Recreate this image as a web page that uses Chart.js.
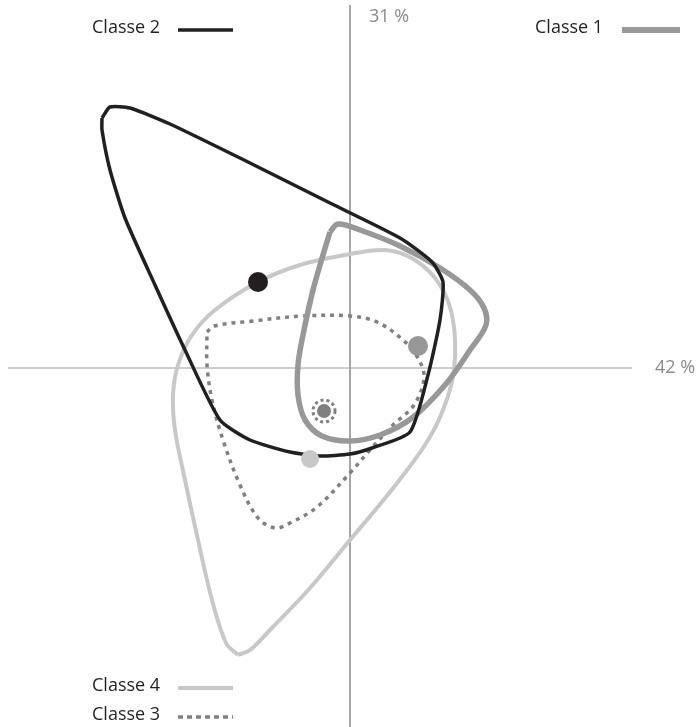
<!DOCTYPE html>
<html>
<head>
<meta charset="utf-8">
<script src="https://cdn.jsdelivr.net/npm/chart.js@4/dist/chart.umd.min.js"></script>
<style>
	html, body { margin: 0; padding: 0; background: #fff; }
	canvas { display: block; }
</style>
</head>
<body>
<canvas id="chart" width="699" height="727"></canvas>
<script>
// axis labels (share of inertia)
var axisLabelX = '42 %';
var axisLabelY = '31 %';
var classNames = ['Classe 1', 'Classe 2', 'Classe 3', 'Classe 4'];

// outline of each class, [axis 1, axis 2]
var classe1 = [[-0.20, 1.36], [-0.12, 1.44], [0.10, 1.38], [0.50, 1.22], [0.90, 1.00], [1.20, 0.78],
	[1.34, 0.60], [1.36, 0.43], [1.20, 0.18], [0.95, -0.17], [0.62, -0.50], [0.30, -0.67],
	[0.00, -0.73], [-0.28, -0.68], [-0.45, -0.52], [-0.52, -0.27], [-0.52, 0.03], [-0.47, 0.33],
	[-0.37, 0.78], [-0.27, 1.13]];
var classe2 = [[-2.48, 2.50], [-2.40, 2.61], [-2.20, 2.60], [-1.80, 2.44], [-1.00, 2.05], [-0.20, 1.65],
	[0.50, 1.30], [0.82, 1.06], [0.93, 0.86], [0.90, 0.48], [0.78, -0.07], [0.60, -0.64],
	[0.22, -0.80], [0.00, -0.86], [-0.30, -0.88], [-0.60, -0.84], [-1.00, -0.72], [-1.30, -0.52],
	[-1.65, 0.18], [-1.95, 0.83], [-2.25, 1.50], [-2.40, 1.98], [-2.48, 2.38]];
var classe3 = [[-1.43, 0.36], [-1.36, 0.42], [-0.97, 0.47], [-0.47, 0.52], [0.00, 0.52], [0.27, 0.46],
	[0.53, 0.28], [0.68, 0.10], [0.74, -0.10], [0.64, -0.37], [0.43, -0.57], [0.20, -0.82],
	[0.00, -1.05], [-0.33, -1.39], [-0.60, -1.55], [-0.75, -1.60], [-0.92, -1.50], [-1.10, -1.17],
	[-1.27, -0.72], [-1.38, -0.32], [-1.43, 0.03]];
var classe4 = [[-1.12, -2.87], [-1.24, -2.75], [-1.38, -2.32], [-1.52, -1.72], [-1.65, -1.12], [-1.75, -0.62],
	[-1.77, -0.27], [-1.72, 0.03], [-1.58, 0.33], [-1.35, 0.58], [-0.92, 0.86], [-0.50, 1.03],
	[-0.05, 1.13], [0.35, 1.18], [0.65, 1.08], [0.90, 0.83], [1.03, 0.48], [1.04, -0.02],
	[0.93, -0.42], [0.75, -0.77], [0.40, -1.24], [0.00, -1.72], [-0.40, -2.20], [-0.80, -2.62],
	[-1.00, -2.82]];

// centre of each class
var centroids = [[0.68, 0.22], [-0.92, 0.86], [-0.26, -0.43], [-0.40, -0.91]];

var colors = ['#98989a', '#231f20', '#808080', '#c8c8c8'];
var widths = [5.5, 3.5, 3.5, 4];
var tensions = [0.35, 0.2, 0.35, 0.35];

function toPoints(arr, close) {
	var pts = arr.map(function(p) { return { x: p[0], y: p[1] }; });
	if (close) pts.push({ x: arr[0][0], y: arr[0][1] });
	return pts;
}

var outlines = [classe1, classe2, classe3, classe4];
var drawOrder = [3, 1, 4, 5]; // lower is drawn on top

var datasets = [
	{ data: [{ x: -3.42, y: 0 }, { x: 2.82, y: 0 }], showLine: true, borderColor: '#9a9a9a', borderWidth: 1, pointRadius: 0, order: 20 },
	{ data: [{ x: 0, y: 3.63 }, { x: 0, y: -3.7 }], showLine: true, borderColor: '#9a9a9a', borderWidth: 1, pointRadius: 0, order: 20 }
];
outlines.forEach(function(o, i) {
	datasets.push({
		label: classNames[i],
		data: toPoints(o, true),
		showLine: true,
		borderColor: colors[i],
		borderWidth: widths[i],
		borderDash: i === 2 ? [4, 5] : [],
		tension: tensions[i],
		pointRadius: 0,
		order: drawOrder[i]
	});
});
datasets.push({
	data: toPoints(centroids, false),
	showLine: false,
	pointRadius: [10, 10, 7, 9],
	pointBackgroundColor: colors,
	pointBorderWidth: 0,
	order: 0
});

var labelsPlugin = {
	id: 'labels',
	afterDraw: function(chart) {
		var ctx = chart.ctx;
		var xs = chart.scales.x, ys = chart.scales.y;
		ctx.save();

		// dotted ring around class 3 centre
		ctx.beginPath();
		ctx.setLineDash([3, 3]);
		ctx.lineWidth = 3;
		ctx.strokeStyle = colors[2];
		ctx.arc(xs.getPixelForValue(centroids[2][0]), ys.getPixelForValue(centroids[2][1]), 11, 0, Math.PI * 2);
		ctx.stroke();
		ctx.setLineDash([]);

		ctx.font = '18px "Open Sans"';
		ctx.textBaseline = 'middle';
		ctx.fillStyle = '#8a8a8a';
		ctx.fillText(axisLabelY, 369, 17);
		ctx.fillText(axisLabelX, 655, 368);

		// legend: [class index, text x, y, line start, line end]
		var legend = [[1, 92, 28, 178, 233], [0, 535, 28, 622, 680], [3, 92, 686, 178, 233], [2, 92, 715, 178, 233]];
		legend.forEach(function(l) {
			var i = l[0];
			ctx.fillStyle = '#231f20';
			ctx.fillText(classNames[i], l[1], l[2]);
			ctx.beginPath();
			ctx.strokeStyle = colors[i];
			ctx.lineWidth = i === 0 ? 6 : widths[i];
			ctx.setLineDash(i === 2 ? [5, 4] : []);
			ctx.moveTo(l[3], l[2] + 2);
			ctx.lineTo(l[4], l[2] + 2);
			ctx.stroke();
		});
		ctx.restore();
	}
};

var chart = new Chart(document.getElementById('chart'), {
	type: 'scatter',
	data: { datasets: datasets },
	options: {
		responsive: false,
		animation: false,
		layout: { padding: 0, autoPadding: false },
		plugins: { legend: { display: false }, tooltip: { enabled: false } },
		scales: {
			x: { type: 'linear', min: -3.5, max: 3.49, display: false },
			y: { type: 'linear', min: -3.59, max: 3.68, display: false }
		}
	},
	plugins: [labelsPlugin]
});
</script>
</body>
</html>
